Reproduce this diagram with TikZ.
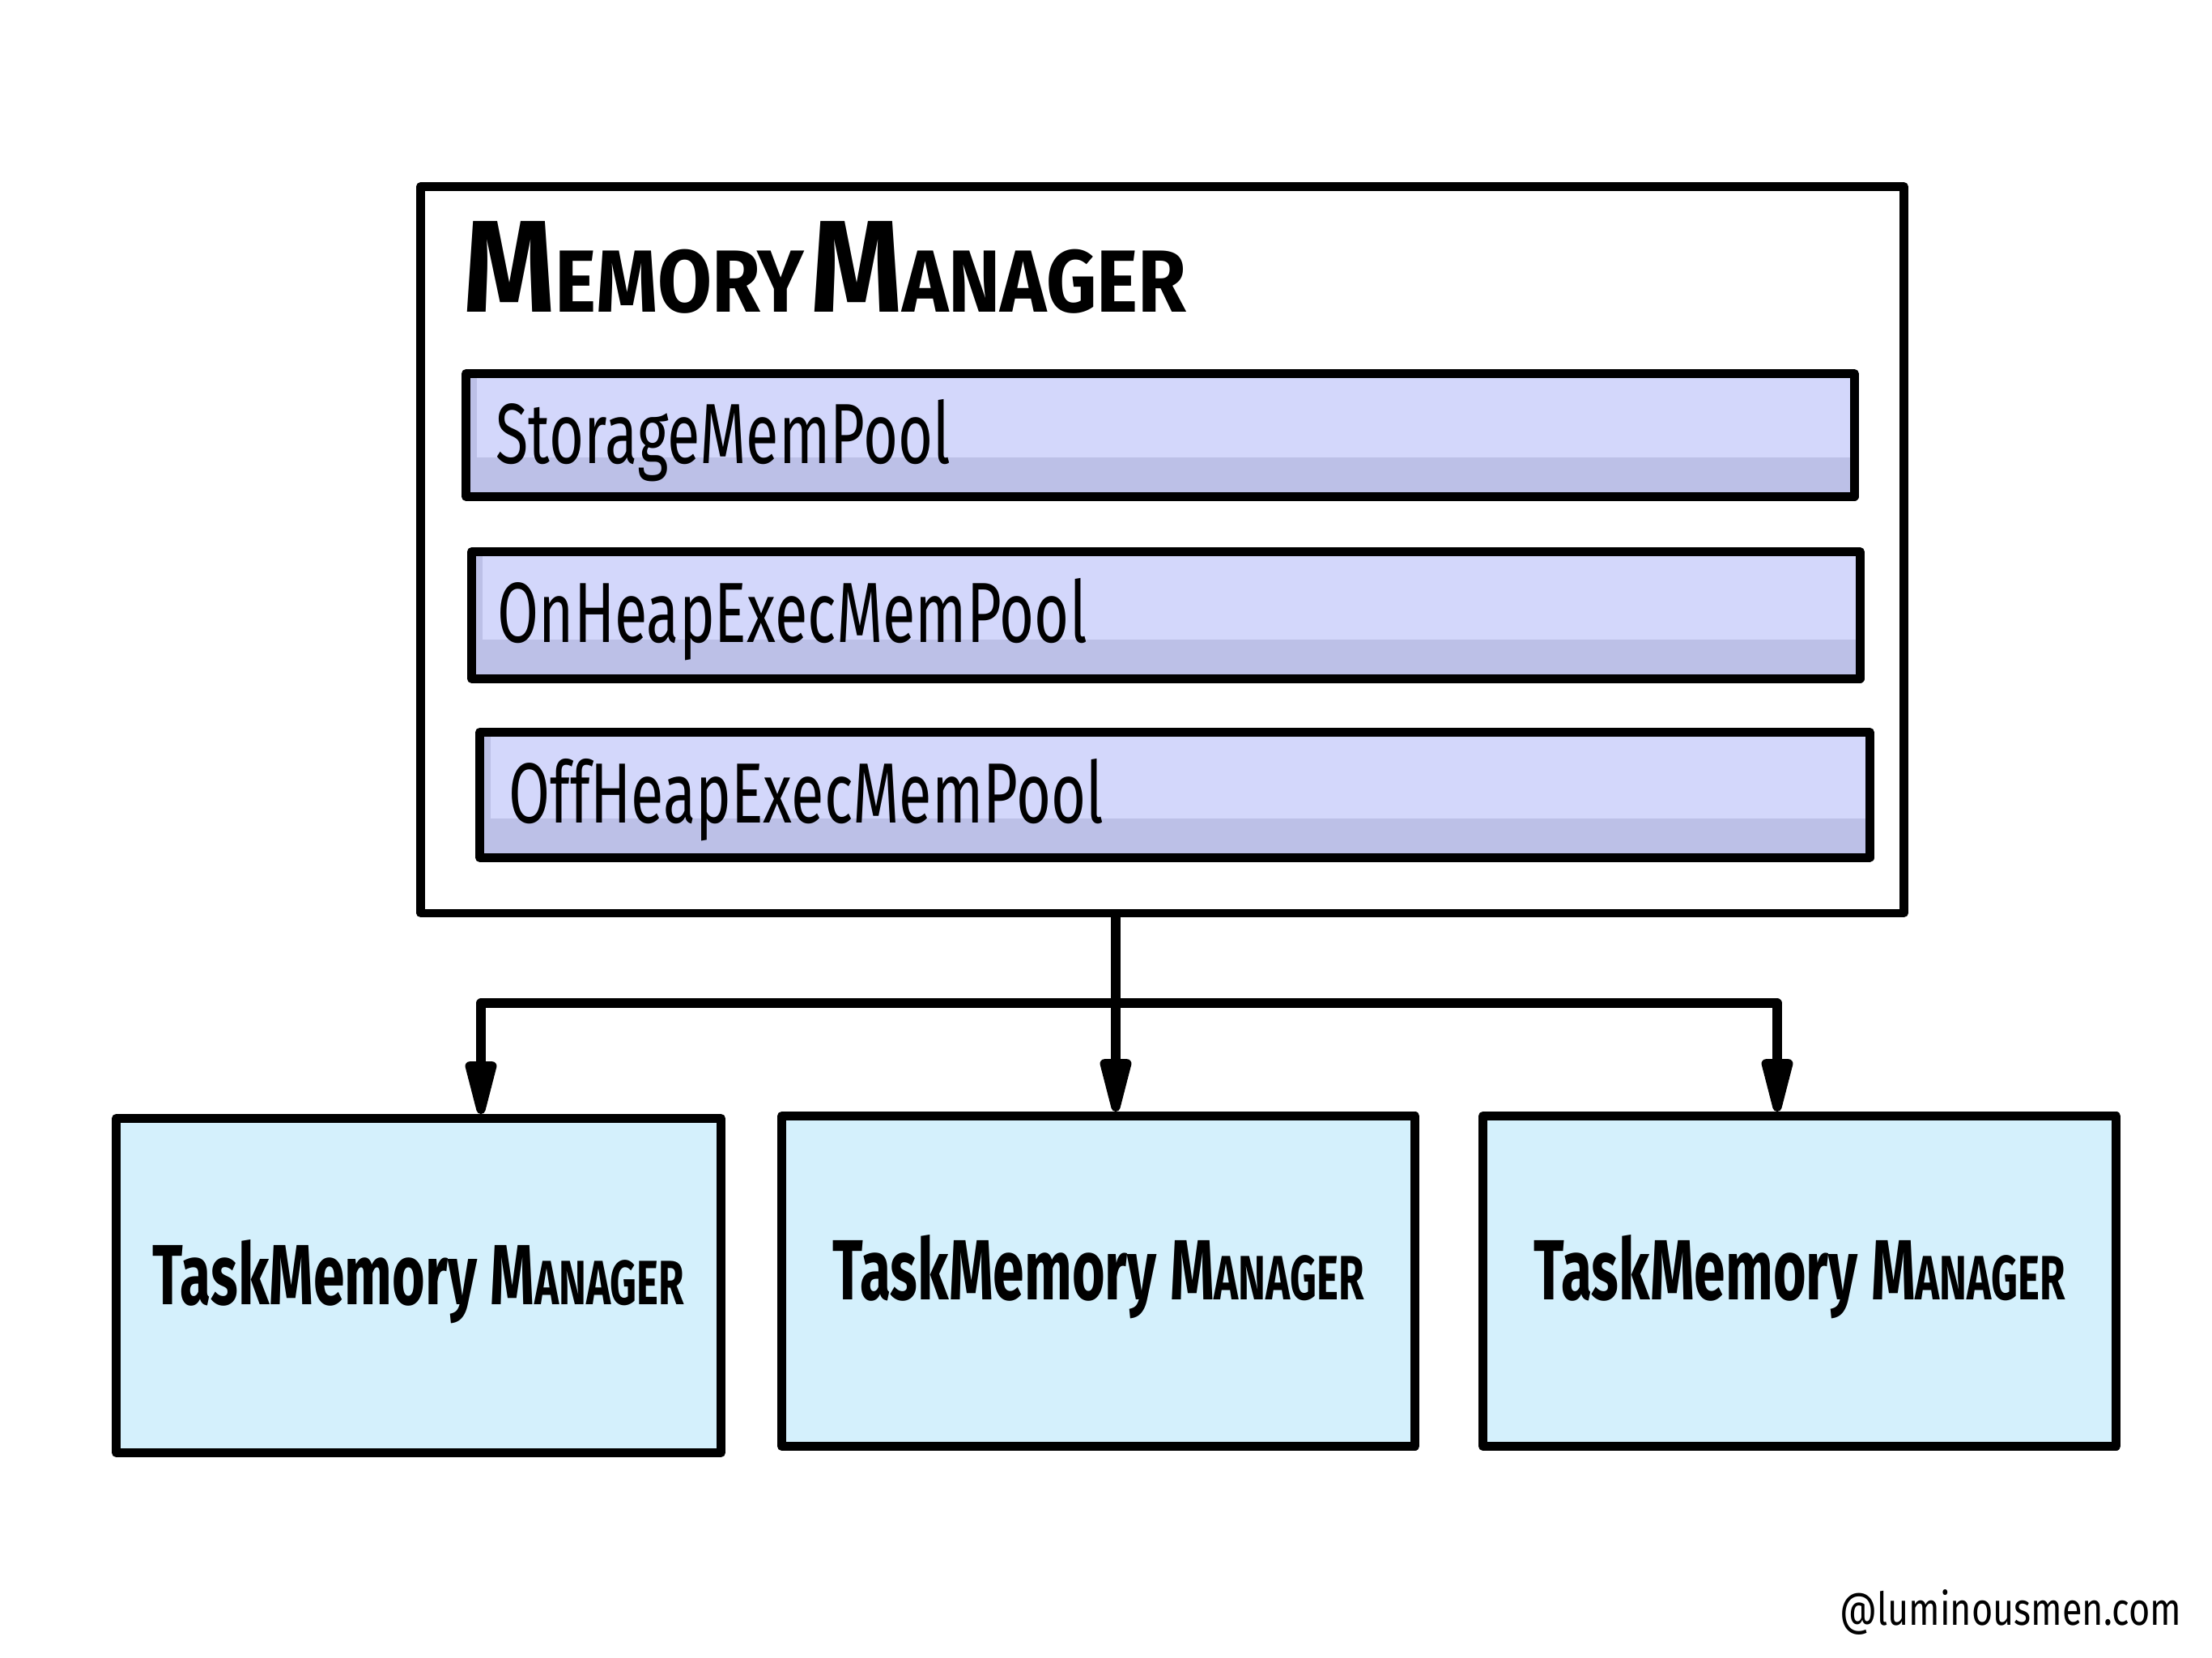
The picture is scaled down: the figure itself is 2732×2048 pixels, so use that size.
\documentclass[tikz,border=0pt]{standalone}
\usepackage{fontspec}
\setmainfont{Fira Sans}
\usepackage{graphicx}
\usetikzlibrary{arrows.meta}
\definecolor{poolfill}{HTML}{D3D7FB}
\definecolor{poolshade}{HTML}{BCC0E7}
\definecolor{taskfill}{HTML}{D4F0FC}
\newcommand{\hsq}[2]{\scalebox{#1}[1]{#2}}
\begin{document}
\begin{tikzpicture}[x=0.01cm,y=-0.01cm,
  box/.style={draw=black, line width=3pt, anchor=north west, inner sep=0pt, line join=round},
  outerbox/.style={box, fill=white},
  pool/.style={box, fill=poolfill,
    path picture={
      \fill[poolshade] (path picture bounding box.south west) rectangle ([yshift=0.48cm]path picture bounding box.south east);
      \fill[poolshade] (path picture bounding box.south west) rectangle ([xshift=0.14cm]path picture bounding box.north west);}},
  task/.style={box, fill=taskfill},
  conn/.style={line width=3.2pt, line cap=round},
  arr/.style={conn, -{Triangle[length=24pt,width=11pt,round]}},
  titletxt/.style={anchor=base west, inner sep=0pt, font=\bfseries},
  pooltxt/.style={anchor=base west, inner sep=0pt, font=\fontsize{30}{36}\selectfont},
  tasktxt/.style={inner sep=0pt, font=\bfseries\fontsize{30}{36}\selectfont},
  wmtxt/.style={inner sep=0pt, font=\fontsize{16}{20}\selectfont}
]
\fill[white] (0,0) rectangle (2732,2048);
\useasboundingbox (0,0) rectangle (2732,2048);

% Memory manager
\node[outerbox, minimum width=18.31cm, minimum height=8.97cm] (mm) at (514,225) {};
\node[titletxt] (title) at (572,385) {\hsq{0.89}{{\fontsize{46}{52}\selectfont M}{\fontsize{31}{36}\selectfont EMORY} {\fontsize{46}{52}\selectfont M}{\fontsize{31}{36}\selectfont ANAGER}}};

\node[pool, minimum width=17.14cm, minimum height=1.52cm] (sp) at (570,456) {};
\node[pooltxt] (sptxt) at (612,572) {\hsq{0.70}{StorageMemPool}};

\node[pool, minimum width=17.14cm, minimum height=1.57cm] (onp) at (577,676) {};
\node[pooltxt] (ontxt) at (614,793) {\hsq{0.70}{OnHeapExecMemPool}};

\node[pool, minimum width=17.16cm, minimum height=1.55cm] (offp) at (587,899) {};
\node[pooltxt] (offtxt) at (628,1016) {\hsq{0.70}{OffHeapExecMemPool}};

% Task memory managers
\node[task, minimum width=7.47cm, minimum height=4.13cm] (t1) at (138,1376) {};
\node[task, minimum width=7.82cm, minimum height=4.08cm] (t2) at (960,1373) {};
\node[task, minimum width=7.82cm, minimum height=4.08cm] (t3) at (1826,1373) {};
\foreach \t in {t1,t2,t3}{
  \node[tasktxt] (\t txt) at ([yshift=0.05cm]\t.center) {\hsq{0.66}{TaskMemory M{\fontsize{22}{26}\selectfont ANAGER}}};
}

% connectors
\coordinate (c0) at (1378,1133);
\coordinate (jl) at (594,1239);
\coordinate (jr) at (2195,1239);
\draw[conn] (jl) -- (jr);
\draw[arr] (c0) -- (c0 |- t2.north);
\draw[arr] (jl) -- (jl |- t1.north);
\draw[arr] (jr) -- (jr |- t3.north);

% watermark
\node[wmtxt] (wm) at (2483,1992) {\hsq{0.8}{@luminousmen.com}};
\end{tikzpicture}
\end{document}
